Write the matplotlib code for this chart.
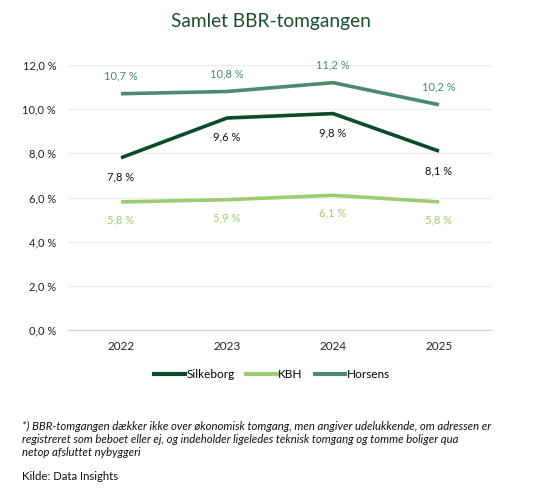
import matplotlib
matplotlib.use("Agg")
import matplotlib.pyplot as plt
from matplotlib.lines import Line2D

years = ["2022", "2023", "2024", "2025"]
silkeborg = [7.8, 9.6, 9.8, 8.1]
kbh = [5.8, 5.9, 6.1, 5.8]
horsens = [10.7, 10.8, 11.2, 10.2]
yticks = [0, 2, 4, 6, 8, 10, 12]

plt.rcParams['font.family'] = ['Lato', 'DejaVu Sans']

c_silk = "#0b4a2c"
c_kbh = "#9dcc72"
c_hors = "#4a8a6e"
c_title = "#1d4d33"

fig = plt.figure(figsize=(5.44, 4.95), dpi=100)
W, H = 544, 495
ax = fig.add_axes([68 / W, 1 - 330 / H, (492 - 68) / W, (330 - 65) / H])

x = list(range(len(years)))
ax.plot(x, silkeborg, color=c_silk, lw=2.6, solid_capstyle='butt', zorder=3)
ax.plot(x, kbh, color=c_kbh, lw=2.6, solid_capstyle='butt', zorder=3)
ax.plot(x, horsens, color=c_hors, lw=2.6, solid_capstyle='butt', zorder=3)

def fmt(v):
    return f"{v:.1f}".replace(".", ",") + " %"

for i, v in enumerate(horsens):
    ax.annotate(fmt(v), (i, v), xytext=(0, 9), textcoords='offset points',
                ha='center', va='bottom', fontsize=8, color=c_hors)
for i, v in enumerate(kbh):
    ax.annotate(fmt(v), (i, v), xytext=(0, -9), textcoords='offset points',
                ha='center', va='top', fontsize=8, color=c_kbh)
for i, v in enumerate(silkeborg):
    ax.annotate(fmt(v), (i, v), xytext=(0, -10), textcoords='offset points',
                ha='center', va='top', fontsize=8, color='#111111')

ax.set_xlim(-0.5, len(years) - 0.5)
ax.set_ylim(0, 12)
ax.set_yticks(yticks)
ax.set_yticklabels([fmt(t) for t in yticks], fontsize=8, color='#222222')
ax.set_xticks(x)
ax.set_xticklabels(years, fontsize=8.5, color='#222222')
ax.tick_params(length=0, pad=8)
ax.tick_params(axis='y', pad=8.5)
ax.grid(axis='y', color='#ececec', lw=1)
ax.set_axisbelow(True)
for s in ['top', 'right', 'left']:
    ax.spines[s].set_visible(False)
ax.spines['bottom'].set_color('#d0d0d0')

fig.text(271 / W, 1 - 22 / H, "Samlet BBR-tomgangen", ha='center', va='center',
         fontsize=13.8, color=c_title)

handles = [Line2D([], [], color=c, lw=3) for c in (c_silk, c_kbh, c_hors)]
fig.legend(handles, ["Silkeborg", "KBH", "Horsens"], loc='center',
           bbox_to_anchor=(272 / W, 1 - 375 / H), ncol=3, frameon=False,
           fontsize=8.5, handlelength=2.6, handletextpad=0.1, columnspacing=1.0)

fig.text(22 / W, 1 - 421 / H,
         "*) BBR-tomgangen dækker ikke over økonomisk tomgang, men angiver udelukkende, om adressen er\n"
         "registreret som beboet eller ej, og indeholder ligeledes teknisk tomgang og tomme boliger qua\n"
         "netop afsluttet nybyggeri",
         ha='left', va='top', fontsize=8.2, style='italic', color='#111111', linespacing=1.22)
fig.text(22 / W, 1 - 477 / H, "Kilde: Data Insights", ha='left', va='center',
         fontsize=8.2, color='#111111')

fig.savefig("out.png", dpi=100)
